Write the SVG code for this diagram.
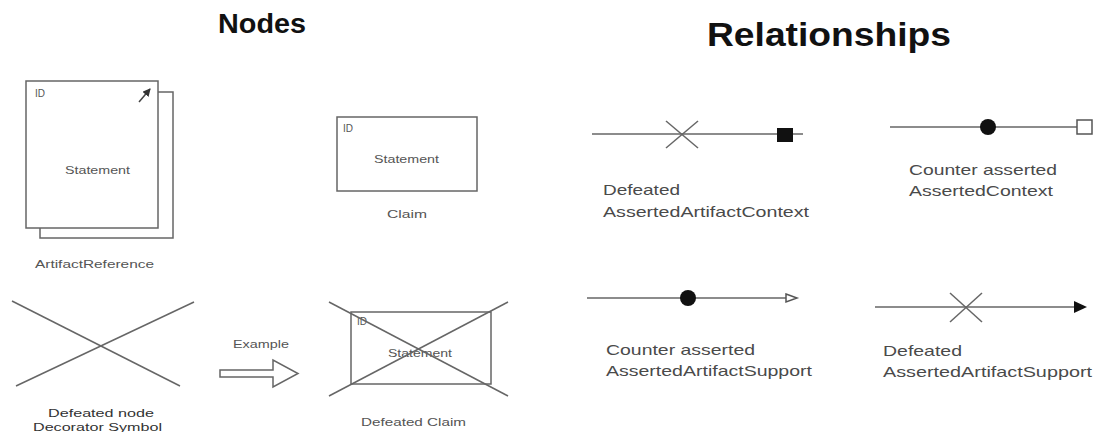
<svg xmlns="http://www.w3.org/2000/svg" width="1097" height="432" viewBox="0 0 1097 432">
<style>
.t{font-family:"Liberation Sans",Arial,sans-serif;fill:#555}
.s{font-size:11px}
.r{font-size:15px;fill:#4a4a4a}
.h{font-family:"Liberation Sans",Arial,sans-serif;font-weight:bold;fill:#111}
.box{fill:#fff;stroke:#666;stroke-width:1.5}
.ln{stroke:#666;stroke-width:1.5;fill:none}
</style>
<defs>
<marker id="tri" markerWidth="8" markerHeight="8" refX="7" refY="4" orient="auto" markerUnits="userSpaceOnUse"><path d="M0,0 L8,4 L0,8 Z" fill="#333"/></marker>
</defs>
<rect width="1097" height="432" fill="#fff"/>
<text class="h" x="218" y="33" font-size="28" textLength="88" lengthAdjust="spacingAndGlyphs">Nodes</text>
<text class="h" x="707" y="46" font-size="33" textLength="244" lengthAdjust="spacingAndGlyphs">Relationships</text>

<g id="artifact-reference">
<rect class="box" x="40" y="92" width="133" height="146"/>
<rect class="box" x="26" y="81" width="132" height="147"/>
<text class="t" x="35" y="97" font-size="10">ID</text>
<line x1="139" y1="102" x2="150" y2="89" stroke="#444" stroke-width="1.5" marker-end="url(#tri)"/>
<text class="t s" x="65" y="174" textLength="65" lengthAdjust="spacingAndGlyphs">Statement</text>
<text class="t s" x="35" y="268" textLength="119" lengthAdjust="spacingAndGlyphs">ArtifactReference</text>
</g>

<g id="claim">
<rect class="box" x="337" y="117" width="140" height="74"/>
<text class="t" x="343" y="132" font-size="10">ID</text>
<text class="t s" x="374" y="163" textLength="65" lengthAdjust="spacingAndGlyphs">Statement</text>
<text class="t s" x="387" y="218" textLength="40" lengthAdjust="spacingAndGlyphs">Claim</text>
</g>

<g id="defeated-decorator">
<line class="ln" x1="12" y1="301" x2="180" y2="386"/>
<line class="ln" x1="16" y1="386" x2="194" y2="302"/>
<text class="t s" x="48" y="417" fill="#333" textLength="106" lengthAdjust="spacingAndGlyphs" style="fill:#333">Defeated node</text>
<text class="t s" x="33" y="431" textLength="129" lengthAdjust="spacingAndGlyphs" style="fill:#333">Decorator Symbol</text>
</g>

<g id="example">
<text class="t s" x="233" y="348" textLength="56" lengthAdjust="spacingAndGlyphs">Example</text>
<path d="M220,370 L273,370 L273,360 L298,373.5 L273,387 L273,377 L220,377 Z" fill="#fff" stroke="#666" stroke-width="1.5"/>
</g>

<g id="defeated-claim">
<rect class="box" x="351" y="312" width="140" height="72"/>
<text class="t" x="357" y="325" font-size="10">ID</text>
<text class="t s" x="388" y="357" textLength="64" lengthAdjust="spacingAndGlyphs">Statement</text>
<line class="ln" x1="329" y1="302" x2="508" y2="396"/>
<line class="ln" x1="329" y1="396" x2="508" y2="302"/>
<text class="t s" x="361" y="426" textLength="105" lengthAdjust="spacingAndGlyphs">Defeated Claim</text>
</g>

<g id="connectors">
<line class="ln" x1="592" y1="134" x2="803" y2="134"/>
<line class="ln" x1="666" y1="121" x2="698" y2="148"/>
<line class="ln" x1="666" y1="148" x2="698" y2="121"/>
<rect x="777" y="128" width="16" height="14" fill="#111"/>

<line class="ln" x1="890" y1="127" x2="1077" y2="127"/>
<circle cx="988" cy="127" r="8" fill="#111"/>
<rect x="1077" y="120" width="15" height="14" fill="#fff" stroke="#555" stroke-width="1.5"/>

<line class="ln" x1="587" y1="298" x2="787" y2="298"/>
<circle cx="688" cy="298" r="8" fill="#111"/>
<path d="M786,294 L797,298 L786,302 Z" fill="#fff" stroke="#555" stroke-width="1.5"/>

<line class="ln" x1="875" y1="307" x2="1076" y2="307"/>
<line class="ln" x1="950" y1="293" x2="982" y2="322"/>
<line class="ln" x1="950" y1="322" x2="982" y2="293"/>
<path d="M1074,301 L1087,307 L1074,313 Z" fill="#111"/>
</g>

<g id="labels">
<text class="t r" x="603" y="195" textLength="77" lengthAdjust="spacingAndGlyphs">Defeated</text>
<text class="t r" x="603" y="217" textLength="206" lengthAdjust="spacingAndGlyphs">AssertedArtifactContext</text>
<text class="t r" x="909" y="175" textLength="148" lengthAdjust="spacingAndGlyphs">Counter asserted</text>
<text class="t r" x="909" y="196" textLength="144" lengthAdjust="spacingAndGlyphs">AssertedContext</text>
<text class="t r" x="606" y="355" textLength="149" lengthAdjust="spacingAndGlyphs">Counter asserted</text>
<text class="t r" x="606" y="376" textLength="206" lengthAdjust="spacingAndGlyphs">AssertedArtifactSupport</text>
<text class="t r" x="883" y="356" textLength="79" lengthAdjust="spacingAndGlyphs">Defeated</text>
<text class="t r" x="883" y="377" textLength="209" lengthAdjust="spacingAndGlyphs">AssertedArtifactSupport</text>
</g>
</svg>
